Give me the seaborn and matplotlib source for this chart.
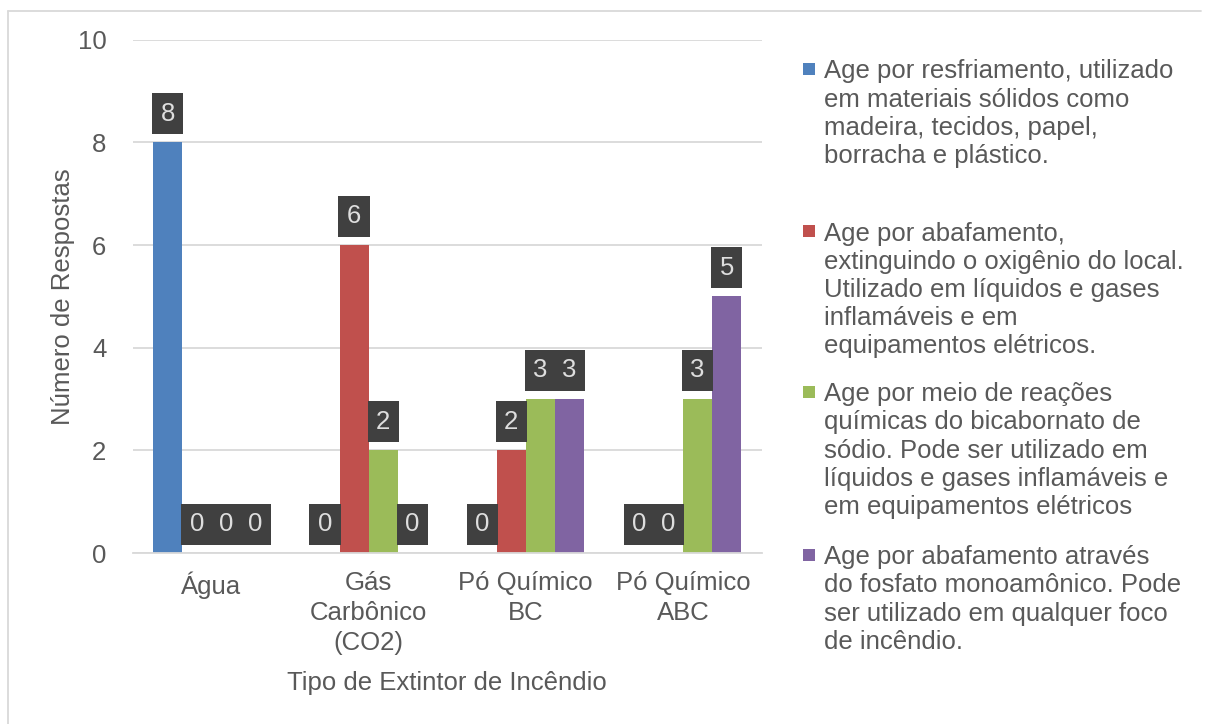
import pandas as pd
import seaborn as sns
import matplotlib.pyplot as plt
from matplotlib.lines import Line2D
from matplotlib.patches import Rectangle

categories = ["Água", "Gás\nCarbônico\n(CO2)", "Pó Químico\nBC", "Pó Químico\nABC"]
series = [
    "Age por resfriamento, utilizado\nem materiais sólidos como\nmadeira, tecidos, papel,\nborracha e plástico.",
    "Age por abafamento,\nextinguindo o oxigênio do local.\nUtilizado em líquidos e gases\ninflamáveis e em\nequipamentos elétricos.",
    "Age por meio de reações\nquímicas do bicabornato de\nsódio. Pode ser utilizado em\nlíquidos e gases inflamáveis e\nem equipamentos elétricos",
    "Age por abafamento através\ndo fosfato monoamônico. Pode\nser utilizado em qualquer foco\nde incêndio.",
]
resfriamento = [8, 0, 0, 0]
abafamento = [0, 6, 2, 0]
bicarbonato = [0, 2, 3, 3]
fosfato = [0, 0, 3, 5]
colors = ["#4F81BD", "#C0504D", "#9BBB59", "#8064A2"]

rows = []
for s, vals in zip(series, [resfriamento, abafamento, bicarbonato, fosfato]):
    for c, v in zip(categories, vals):
        rows.append({"tipo": c, "serie": s, "n": v})
df = pd.DataFrame(rows)

sns.set_style("white")
plt.rcParams["font.family"] = ["Liberation Sans", "DejaVu Sans"]
text_color = "#595959"
fs = 18.5

fig = plt.figure(figsize=(12.07, 7.24), dpi=100)
ax = fig.add_axes([0.110, 0.236, 0.521, 0.709])

sns.barplot(data=df, x="tipo", y="n", hue="serie", hue_order=series,
            palette=colors, width=0.74, saturation=1, legend=False,
            linewidth=0, ax=ax)

ax.set_ylim(0, 10)
ax.set_yticks([0, 2, 4, 6, 8, 10])
ax.yaxis.grid(True, color="#d9d9d9", linewidth=1.3)
ax.set_axisbelow(True)
for sp in ["top", "right", "left"]:
    ax.spines[sp].set_visible(False)
ax.spines["bottom"].set_color("#d9d9d9")
ax.spines["bottom"].set_linewidth(1.3)
ax.tick_params(axis="both", length=0, labelsize=fs, colors=text_color)
ax.tick_params(axis="y", pad=19)
ax.tick_params(axis="x", pad=13)
for lbl in ax.get_xticklabels():
    lbl.set_linespacing(1.3)

ax.set_ylabel("Número de Respostas", fontsize=fs, color=text_color, labelpad=2)
ax.set_xlabel("Tipo de Extintor de Incêndio", fontsize=fs, color=text_color, labelpad=12)

for cont in ax.containers:
    ax.bar_label(cont, fmt="%d", padding=12, fontsize=fs, color="#dedede",
                 bbox=dict(boxstyle="square,pad=0.33", fc="#404040", ec="none"))

# legend on the right, entries evenly spaced like the original
legend_tops = [0.918, 0.694, 0.472, 0.247]
for s, col, ytop in zip(series, colors, legend_tops):
    fig.text(0.683, ytop, s, fontsize=fs, color=text_color, va="top",
             ha="left", linespacing=1.22)
    fig.add_artist(Rectangle((0.6655, ytop - 0.0215), 0.0099, 0.0166,
                             transform=fig.transFigure, fc=col, ec="none"))

# chart border (left and top visible)
fig.add_artist(Line2D([0.007, 0.007], [0, 0.985], transform=fig.transFigure,
                      color="#d9d9d9", linewidth=1.3))
fig.add_artist(Line2D([0.007, 0.995], [0.985, 0.985], transform=fig.transFigure,
                      color="#d9d9d9", linewidth=1.3))

fig.savefig("out.png", dpi=100, facecolor="white")
